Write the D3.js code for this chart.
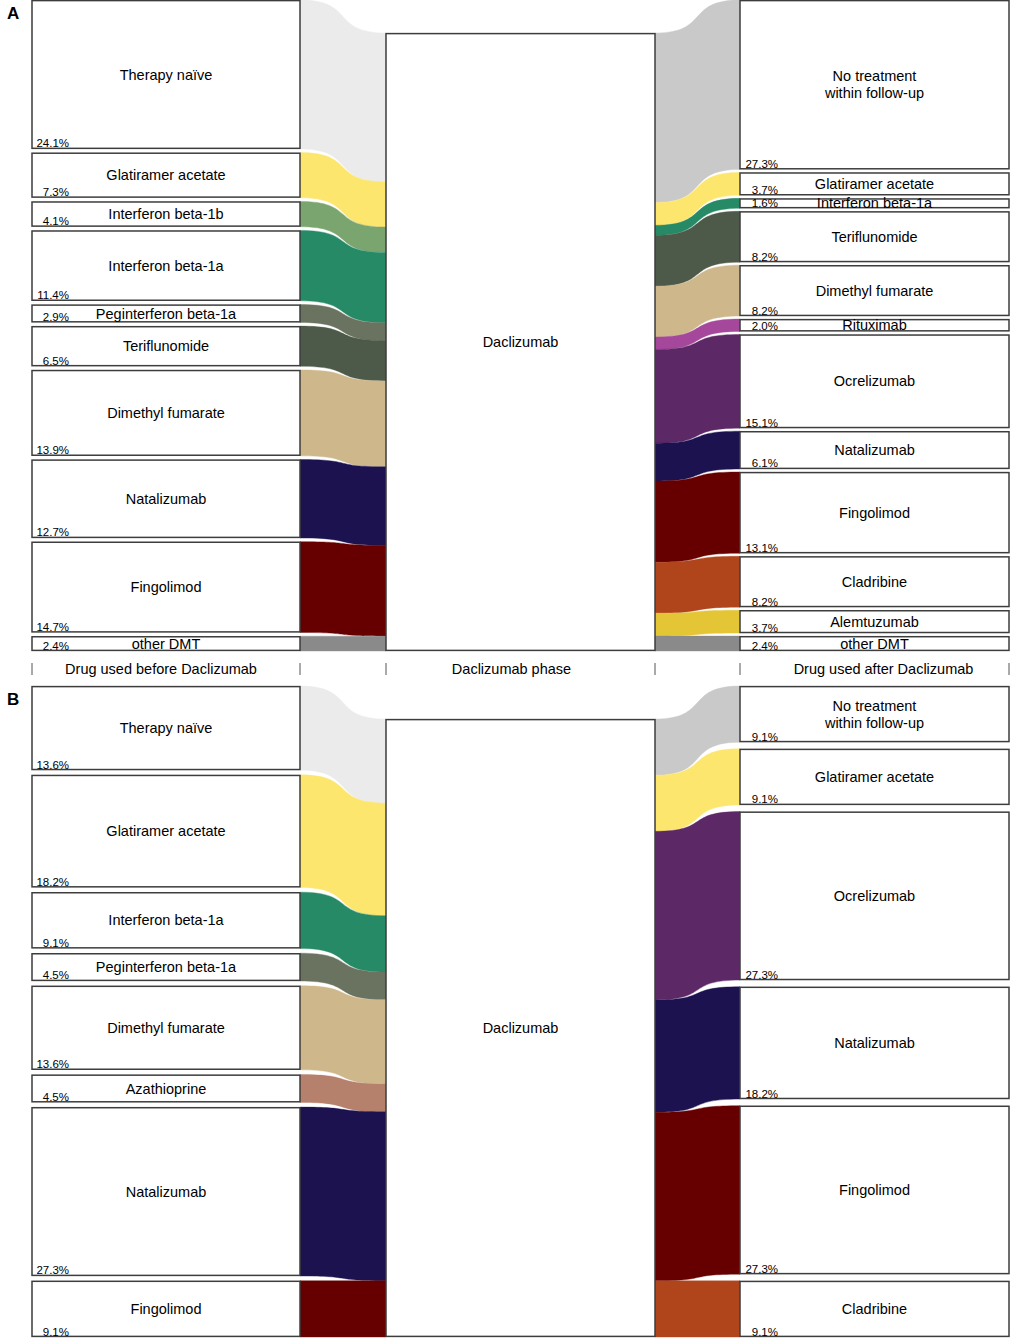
<!DOCTYPE html>
<html><head><meta charset="utf-8">
<script src="https://cdn.jsdelivr.net/npm/d3@7"></script>
<style>
body{margin:0;background:#fff}
svg{display:block}
text{font-family:"Liberation Sans",Arial,Helvetica,sans-serif;fill:#000}
</style>
</head><body>
<svg id="chart" width="1011" height="1339"></svg>
<script>
// ---- data ----
const beforeA = ["Therapy naïve","Glatiramer acetate","Interferon beta-1b","Interferon beta-1a","Peginterferon beta-1a","Teriflunomide","Dimethyl fumarate","Natalizumab","Fingolimod","other DMT"];
const beforeAPct = [24.1,7.3,4.1,11.4,2.9,6.5,13.9,12.7,14.7,2.4];
const afterA = ["No treatment\nwithin follow-up","Glatiramer acetate","Interferon beta-1a","Teriflunomide","Dimethyl fumarate","Rituximab","Ocrelizumab","Natalizumab","Fingolimod","Cladribine","Alemtuzumab","other DMT"];
const afterAPct = [27.3,3.7,1.6,8.2,8.2,2.0,15.1,6.1,13.1,8.2,3.7,2.4];
const beforeB = ["Therapy naïve","Glatiramer acetate","Interferon beta-1a","Peginterferon beta-1a","Dimethyl fumarate","Azathioprine","Natalizumab","Fingolimod"];
const beforeBPct = [13.6,18.2,9.1,4.5,13.6,4.5,27.3,9.1];
const afterB = ["No treatment\nwithin follow-up","Glatiramer acetate","Ocrelizumab","Natalizumab","Fingolimod","Cladribine"];
const afterBPct = [9.1,9.1,27.3,18.2,27.3,9.1];
const centerLabel = "Daclizumab";
const axisLabels = ["Drug used before Daclizumab","Daclizumab phase","Drug used after Daclizumab"];
const panelLetters = ["A","B"];

const drugNames = ["Therapy naïve","No treatment\nwithin follow-up","Glatiramer acetate","Interferon beta-1b","Interferon beta-1a","Peginterferon beta-1a","Teriflunomide","Dimethyl fumarate","Natalizumab","Fingolimod","other DMT","Rituximab","Ocrelizumab","Cladribine","Alemtuzumab","Azathioprine"];
const drugColors = ["#ebebeb","#c9c9c9","#fde66e","#7ba56f","#268a66","#6a735f","#4e5a49","#cdb78b","#1d1250","#660000","#8a8a8a","#a5479b","#5d2866","#b0451c","#e3c535","#b5806c"];

// ---- scales / layout ----
const color = d3.scaleOrdinal().domain(drugNames).range(drugColors);
const col = d3.scaleOrdinal().domain(["L0","L1","C0","C1","R0","R1"]).range([32,300,386,655,740,1009]);
const H = 651, GAP = 33;
const fmt = d3.format(".1f");
const svg = d3.select("#chart");

function stack(pcts){
  const sum = d3.sum(pcts);
  const y = d3.scaleLinear().domain([0,sum]).range([0,H-GAP]);
  const gap = GAP/(pcts.length-1);
  let cum = 0;
  return pcts.map((p,i)=>{
    const o = {
      bt: y(cum)+i*gap, bb: y(cum+p)+i*gap,
      ct: GAP+y(cum), cb: GAP+y(cum+p), p
    };
    cum += p; return o;
  });
}

function flowPath(xa,ta,ba,xb,tb,bb){
  const k = 0.65, dx = xb-xa;
  const c1 = xa+k*dx, c2 = xb-k*dx;
  return `M${xa},${ta}C${c1},${ta} ${c2},${tb} ${xb},${tb}L${xb},${bb}C${c2},${bb} ${c1},${ba} ${xa},${ba}Z`;
}

function nameLabel(g, name, x, yc){
  const lines = name.split("\n");
  const t = g.append("text").attr("x",x).attr("text-anchor","middle")
    .style("font-size","14.5px");
  lines.forEach((l,i)=>{
    t.append("tspan").attr("x",x)
     .attr("y", yc + (i-(lines.length-1)/2)*17)
     .attr("dy","0.35em").text(l);
  });
}

function drawPanel(y0, before, bPct, after, aPct, letter, withAxis){
  const g = svg.append("g").attr("transform",`translate(0,${y0})`);
  const L = stack(bPct), R = stack(aPct);
  // flows
  L.forEach((s,i)=>{
    g.append("path").attr("d",flowPath(col("L1"),s.bt,s.bb,col("C0"),s.ct,s.cb))
      .attr("fill",color(before[i])).attr("stroke",color(before[i])).attr("stroke-width",0.4);
  });
  R.forEach((s,i)=>{
    g.append("path").attr("d",flowPath(col("C1"),s.ct,s.cb,col("R0"),s.bt,s.bb))
      .attr("fill",color(after[i])).attr("stroke",color(after[i])).attr("stroke-width",0.4);
  });
  // boxes
  const box = (x0,x1,t,b)=> g.append("rect").attr("x",x0).attr("y",t+0.6)
      .attr("width",x1-x0).attr("height",Math.max(0,b-t-1.2))
      .attr("fill","#fff").attr("stroke","#3d3d3d").attr("stroke-width",1.5);
  L.forEach((s,i)=>{
    box(col("L0"),col("L1"),s.bt,s.bb);
  });
  R.forEach((s,i)=>{
    box(col("R0"),col("R1"),s.bt,s.bb);
  });
  box(col("C0"),col("C1"),GAP,H);
  // labels
  L.forEach((s,i)=>{
    nameLabel(g, before[i], (col("L0")+col("L1"))/2, (s.bt+s.bb)/2);
    g.append("text").attr("x",col("L0")+37).attr("y",s.bb-1.5).attr("text-anchor","end")
      .style("font-size","11.5px").text(fmt(s.p)+"%");
  });
  R.forEach((s,i)=>{
    nameLabel(g, after[i], (col("R0")+col("R1"))/2, (s.bt+s.bb)/2);
    g.append("text").attr("x",col("R0")+38).attr("y",s.bb-1.5).attr("text-anchor","end")
      .style("font-size","11.5px").text(fmt(s.p)+"%");
  });
  nameLabel(g, centerLabel, (col("C0")+col("C1"))/2, (GAP+H)/2);
  // panel letter
  g.append("text").attr("x",7).attr("y",19).style("font-size","17px")
    .style("font-weight","bold").text(letter);
  // axis
  if(withAxis){
    col.domain().forEach(k=>{
      g.append("line").attr("x1",col(k)).attr("x2",col(k)).attr("y1",H+12).attr("y2",H+24)
        .attr("stroke","#555").attr("stroke-width",1);
    });
    const cx = [(col("L0")+col("L1"))/2-5,(col("C0")+col("C1"))/2-9,(col("R0")+col("R1"))/2+9];
    axisLabels.forEach((l,i)=>{
      g.append("text").attr("x",cx[i]).attr("y",H+23).attr("text-anchor","middle")
        .style("font-size","14.5px").text(l);
    });
  }
}

drawPanel(0, beforeA, beforeAPct, afterA, afterAPct, panelLetters[0], true);
drawPanel(686, beforeB, beforeBPct, afterB, afterBPct, panelLetters[1], false);
</script>
</body></html>
